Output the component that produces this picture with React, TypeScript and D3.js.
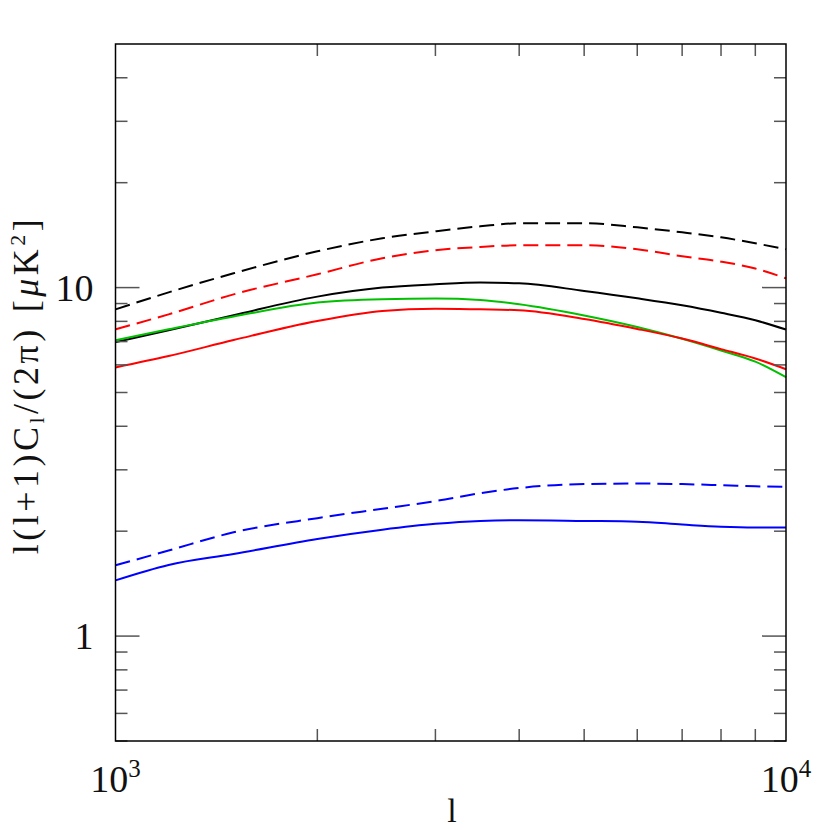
import React from "react";
import * as d3 from "d3";

// multipole samples shared by all curves
const ells = [1000, 1200, 1500, 2000, 2500, 3000, 3500, 4000, 5000, 6000, 7000, 8000, 9000, 10000];

const blackDashed = [8.66, 9.69, 10.99, 12.71, 13.85, 14.5, 14.99, 15.3, 15.3, 14.89, 14.41, 13.94, 13.4, 12.88];
const redDashed = [7.59, 8.38, 9.56, 10.92, 12.14, 12.8, 13.08, 13.23, 13.23, 12.88, 12.3, 11.87, 11.34, 10.63];
const blackSolid = [6.97, 7.54, 8.33, 9.42, 10.0, 10.22, 10.34, 10.29, 9.78, 9.32, 8.9, 8.47, 8.06, 7.58];
const greenSolid = [7.06, 7.59, 8.26, 9.06, 9.26, 9.3, 9.21, 8.96, 8.32, 7.71, 7.13, 6.6, 6.13, 5.53];
const redSolid = [5.9, 6.36, 7.07, 8.02, 8.57, 8.7, 8.66, 8.61, 8.13, 7.61, 7.14, 6.66, 6.26, 5.83];
const blueDashed = [1.596, 1.76, 1.985, 2.18, 2.32, 2.44, 2.57, 2.66, 2.73, 2.74, 2.73, 2.71, 2.69, 2.68];
const blueSolid = [1.445, 1.6, 1.72, 1.9, 2.02, 2.1, 2.14, 2.15, 2.14, 2.13, 2.09, 2.06, 2.05, 2.05];

const series = [
  { values: blackDashed, color: "#000000", dashed: true },
  { values: redDashed, color: "#ff0000", dashed: true },
  { values: blackSolid, color: "#000000", dashed: false },
  { values: greenSolid, color: "#00c000", dashed: false },
  { values: redSolid, color: "#ff0000", dashed: false },
  { values: blueDashed, color: "#0000ff", dashed: true },
  { values: blueSolid, color: "#0000ff", dashed: false },
];

const yMajor = [1, 10];
const yMinor = [0.5, 0.6, 0.7, 0.8, 0.9, 2, 3, 4, 5, 6, 7, 8, 9, 20, 30, 40];
const xMinor = [2000, 3000, 4000, 5000, 6000, 7000, 8000, 9000];

const W = 830;
const H = 830;
const left = 115.5;
const right = 786;
const top = 44;
const bottom = 741;
const font = "'Liberation Serif', 'DejaVu Serif', serif";

export default function App() {
  const x = d3.scaleLog().domain([1000, 10000]).range([left, right]);
  const y = d3.scaleLog().domain([0.5, 50]).range([bottom, top]);

  const line = d3
    .line<number>()
    .x((_, i) => x(ells[i]))
    .y((d) => y(d))
    .curve(d3.curveMonotoneX);

  const tickColor = "#555";

  return (
    <svg
      width={W}
      height={H}
      style={{ position: "absolute", left: 0, top: 0, background: "#fff" }}
    >
      {/* curves */}
      {series.map((s, i) => (
        <path
          key={i}
          d={line(s.values) ?? ""}
          fill="none"
          stroke={s.color}
          strokeWidth={2}
          strokeDasharray={s.dashed ? "15,7" : undefined}
        />
      ))}

      {/* y ticks, left and right */}
      {yMajor.map((v) => (
        <g key={"ym" + v} stroke={tickColor} strokeWidth={1.5}>
          <line x1={left} x2={left + 24} y1={y(v)} y2={y(v)} />
          <line x1={right} x2={right - 24} y1={y(v)} y2={y(v)} />
        </g>
      ))}
      {yMinor.map((v) => (
        <g key={"yn" + v} stroke={tickColor} strokeWidth={1.5}>
          <line x1={left} x2={left + 12} y1={y(v)} y2={y(v)} />
          <line x1={right} x2={right - 12} y1={y(v)} y2={y(v)} />
        </g>
      ))}
      {/* x ticks, bottom and top */}
      {xMinor.map((v) => (
        <g key={"xn" + v} stroke={tickColor} strokeWidth={1.5}>
          <line x1={x(v)} x2={x(v)} y1={bottom} y2={bottom - 12} />
          <line x1={x(v)} x2={x(v)} y1={top} y2={top + 12} />
        </g>
      ))}

      {/* frame */}
      <rect
        x={left}
        y={top}
        width={right - left}
        height={bottom - top}
        fill="none"
        stroke="#000"
        strokeWidth={1.5}
      />

      {/* y tick labels */}
      <g fontFamily={font} fontSize={38} fill="#111" textAnchor="end">
        {yMajor.map((v) => (
          <text key={v} x={left - 22} y={y(v) + 13}>
            {d3.format("d")(v)}
          </text>
        ))}
      </g>

      {/* x tick labels */}
      <g fontFamily={font} fontSize={38} fill="#111" textAnchor="middle">
        {[1000, 10000].map((v) => (
          <text key={v} x={x(v)} y={792}>
            10
            <tspan fontSize={25} dy={-15}>
              {Math.round(Math.log10(v))}
            </tspan>
          </text>
        ))}
      </g>

      {/* axis titles */}
      <text x={452} y={822} fontFamily={font} fontSize={34} fill="#111" textAnchor="middle">
        l
      </text>
      <text
        transform="translate(38,385) rotate(-90)"
        fontFamily={font}
        fontSize={36}
        fill="#111"
        textAnchor="middle"
        letterSpacing={3.5}
      >
        l(l+1)C
        <tspan fontSize={22} dy={6}>l</tspan>
        <tspan dy={-6}>/(2π)</tspan>
        <tspan dx={14}>[</tspan>
        <tspan fontStyle="italic">μ</tspan>
        <tspan>K</tspan>
        <tspan fontSize={22} dy={-13}>2</tspan>
        <tspan dy={13}>]</tspan>
      </text>
    </svg>
  );
}
